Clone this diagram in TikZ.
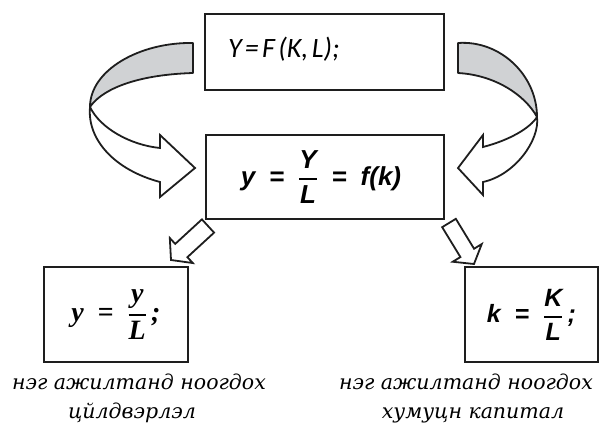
\documentclass[tikz,border=0pt]{standalone}
\usepackage{fontspec}
\usepackage{amsmath}
\usetikzlibrary{calc}
\newfontfamily\calib{Carlito}
\newfontfamily\lsans{Liberation Sans}
\newfontfamily\lserif{Liberation Serif}
\newfontfamily\cyrfont{DejaVu Serif}
\definecolor{ribbon}{RGB}{208,210,212}
\definecolor{ink}{RGB}{30,30,30}
\tikzset{
  box/.style={draw=ink, line width=2pt, rectangle, inner sep=0pt, anchor=north west},
  ribbonpart/.style={draw=ink, line width=1.8pt, line join=round, fill=ribbon},
  whitepart/.style={draw=ink, line width=1.8pt, line join=miter, fill=white},
  caption/.style={font=\cyrfont\itshape\fontsize{20.5}{29}\selectfont, align=center, inner sep=0pt},
}
\newcommand{\fr}[2]{\genfrac{}{}{1.8pt}{0}{\text{#1}}{\text{#2}}}
\newcommand{\blockarrow}[6]{%
  \coordinate (#1n) at ($(#3)!#6!(#2)$);
  \draw[whitepart] ($(#2)!#4!90:(#3)$) -- ($(#1n)!#4!-90:(#2)$) -- ($(#1n)!#5!-90:(#2)$) -- (#3)
    -- ($(#1n)!#5!90:(#2)$) -- ($(#1n)!#4!90:(#2)$) -- ($(#2)!#4!-90:(#3)$) -- cycle;
}
\begin{document}
\begin{tikzpicture}[x=1pt,y=-1pt]
\useasboundingbox (0,0) rectangle (600,423);

% boxes
\node[box, minimum width=239pt, minimum height=76pt, text width=239pt, align=left] (top) at (204,13)
  {\hspace*{23pt}\raisebox{10pt}{\calib\itshape\fontsize{28}{30}\selectfont Y = F (K, L);}};
\node[box, minimum width=238pt, minimum height=84pt] (mid) at (205,134)
  {{\lsans\bfseries\itshape\fontsize{26}{30}\selectfont $\text{y}\;\;\text{=}\;\;\fr{Y}{L}\;\;\text{=}\;\;\text{f(k)}$}\hspace*{8pt}};
\node[box, minimum width=144pt, minimum height=95pt] (bl) at (43,266)
  {{\lserif\bfseries\itshape\fontsize{28}{32}\selectfont $\text{y}\;\;\text{=}\;\;\fr{y}{L}\,\text{;}$}};
\node[box, minimum width=133pt, minimum height=95pt] (br) at (464,266)
  {{\lsans\bfseries\itshape\fontsize{25}{30}\selectfont $\text{k}\;\;\text{=}\;\;\fr{K}{L}\,\text{;}$}};

% captions
\node[caption] (cl) at (139,398) {нэг ажилтанд ноогдох\\\hspace*{-14pt}цйлдвэрлэл};
\node[caption] (cr) at (466,398) {нэг ажилтанд ноогдох\\\hspace*{14pt}хумуцн капитал};

% left curved arrow
\coordinate (LA) at (193,43);
\coordinate (LC) at (90,107);
\coordinate (LD) at (193,73);
\draw[whitepart] (LC) .. controls (87,140) and (115,170) .. (160,182) -- (160,197) -- (195,168)
  -- (160,135) -- (160,148) .. controls (130,145) and (100,128) .. (LC) -- cycle;
\draw[ribbonpart] (LA) .. controls (140,42) and (90,70) .. (LC) .. controls (100,92) and (130,75) .. (LD) -- cycle;

% right curved arrow
\coordinate (RA) at (458,43);
\coordinate (RC) at (537,117);
\coordinate (RD) at (458,73);
\draw[whitepart] (RC) .. controls (540,140) and (515,175) .. (483,182) -- (483,195) -- (458,168)
  -- (483,135) -- (483,147) .. controls (510,140) and (530,128) .. (RC) -- cycle;
\draw[ribbonpart] (RA) .. controls (500,40) and (537,75) .. (RC) .. controls (525,95) and (495,75) .. (RD) -- cycle;

% small block arrows
\coordinate (SLt) at (208,226);
\coordinate (SLp) at (171,260);
\blockarrow{SL}{SLt}{SLp}{9pt}{17pt}{14pt}
\coordinate (SRt) at (449,223);
\coordinate (SRp) at (474,264);
\blockarrow{SR}{SRt}{SRp}{8pt}{17pt}{13pt}
\end{tikzpicture}
\end{document}
